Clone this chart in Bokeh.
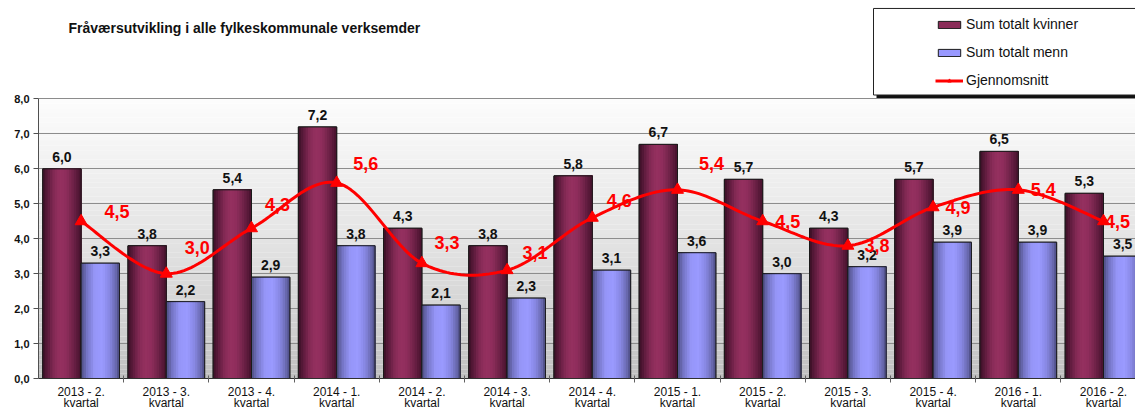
from bokeh.plotting import figure
from bokeh.models import (Range1d, FixedTicker, Legend, LegendItem, BoxAnnotation,
                          Label, ColumnDataSource)
from bokeh.core.properties import value
from bokeh.embed import file_html
from bokeh.resources import INLINE
import numpy as np

# ---------------- data ----------------
categories = ["2013 - 2.", "2013 - 3.", "2013 - 4.", "2014 - 1.", "2014 - 2.",
              "2014 - 3.", "2014 - 4.", "2015 - 1.", "2015 - 2.", "2015 - 3.",
              "2015 - 4.", "2016 - 1.", "2016 - 2."]
kvinner = [6.0, 3.8, 5.4, 7.2, 4.3, 3.8, 5.8, 6.7, 5.7, 4.3, 5.7, 6.5, 5.3]
menn = [3.3, 2.2, 2.9, 3.8, 2.1, 2.3, 3.1, 3.6, 3.0, 3.2, 3.9, 3.9, 3.5]
snitt = [4.5, 3.0, 4.3, 5.6, 3.3, 3.1, 4.6, 5.4, 4.5, 3.8, 4.9, 5.4, 4.5]
y_ticks = [0, 1, 2, 3, 4, 5, 6, 7, 8]

# ---------------- style / layout ----------------
FONT = "Liberation Sans"
BAR_W = 0.45
W, H = 1135, 412
FRAME_L, FRAME_B = 38, 32          # border sizes in px
CAT_PX = 85.2                      # px per category
Y_PX = 35.125                      # px per unit on the value axis
X0 = -0.5
X1 = X0 + (W - FRAME_L) / CAT_PX
Y1 = (H - FRAME_B) / Y_PX          # plot area reaches the top of the picture
# pixel offsets of the average labels (placement style)
avg_dx = [36, 31, 26, 29, 25, 28, 27, 34, 25, 29, 25, 25, 14]
avg_dy = [-10, -26, -24, -19, -21, -18, -17, -26, 0, 0, 0, 0, 0]


def px2x(px):
    return X0 + (px - FRAME_L) / CAT_PX


def py2y(py):
    return (H - FRAME_B - py) / Y_PX


n = len(categories)
xc = np.arange(n, dtype=float)
YMAX = y_ticks[-1]


def fmt(v):
    return f"{v:.1f}".replace(".", ",")


p = figure(width=W, height=H, x_range=Range1d(X0, X1), y_range=Range1d(0, Y1),
           output_backend="svg", toolbar_location=None, title=None,
           min_border_left=FRAME_L, min_border_right=0, min_border_top=0,
           min_border_bottom=FRAME_B)
p.outline_line_color = None
p.background_fill_color = "white"
p.border_fill_color = "white"

# background gradient of the plot area (0..8 only)
nb = 60
edges = np.linspace(0, YMAX, nb + 1)
bg_cols = []
for i in range(nb):
    t = ((edges[i] + edges[i + 1]) / 2) / YMAX
    c = int(round(188 + (252 - 188) * t ** 0.7))
    bg_cols.append(f"#{c:02x}{c:02x}{c:02x}")
p.quad(left=X0, right=X1, bottom=edges[:-1], top=edges[1:] + 0.001,
       fill_color=bg_cols, line_color=None, level="image")

# grid
p.xgrid.visible = False
p.ygrid.ticker = FixedTicker(ticks=y_ticks)
p.ygrid.grid_line_color = "#8c8c8c"
p.ygrid.grid_line_width = 1


def hex2rgb(h):
    h = h.lstrip("#")
    return [int(h[i:i + 2], 16) for i in (0, 2, 4)]


def profile_color(stops, t):
    for (t0, c0), (t1, c1) in zip(stops[:-1], stops[1:]):
        if t0 <= t <= t1:
            f = (t - t0) / (t1 - t0) if t1 > t0 else 0
            a, b = hex2rgb(c0), hex2rgb(c1)
            r = [int(round(a[k] + (b[k] - a[k]) * f)) for k in range(3)]
            return "#%02x%02x%02x" % tuple(r)
    return stops[-1][1]


k_stops = [(0.0, "#3a0f25"), (0.12, "#5a1a3b"), (0.3, "#862b56"), (0.45, "#953060"),
           (0.62, "#8e2d5b"), (0.82, "#6a2045"), (1.0, "#45122c")]
m_stops = [(0.0, "#4d4d80"), (0.15, "#7474c4"), (0.35, "#9696f8"), (0.55, "#9a9aff"),
           (0.75, "#8686e0"), (0.9, "#6a6ab0"), (1.0, "#4a4a7e")]


def shaded_bars(vals, offset, stops, mid):
    x = xc + offset
    base = p.vbar(x=x, width=BAR_W, top=vals, bottom=0, fill_color=mid,
                  line_color="#1a1a1a", line_width=1)
    ns = 16
    for k in range(ns):
        t = (k + 0.5) / ns
        left = x - BAR_W / 2 + k * BAR_W / ns
        p.quad(left=left, right=x + BAR_W / 2, bottom=0, top=vals,
               fill_color=profile_color(stops, t), line_color=None)
    p.vbar(x=x, width=BAR_W, top=vals, bottom=0, fill_alpha=0,
           line_color="#1a1a1a", line_width=1)
    src = ColumnDataSource(dict(x=x, y=vals, t=[fmt(v) for v in vals]))
    p.text(x="x", y="y", text="t", source=src, text_align="center",
           text_baseline="bottom", y_offset=-7, text_font=value(FONT),
           text_font_size="14px", text_font_style="bold", text_color="#111111")
    return base


r_k = shaded_bars(kvinner, -BAR_W / 2, k_stops, "#8a2c58")
r_m = shaded_bars(menn, BAR_W / 2, m_stops, "#9999ff")

# smoothed average line (Catmull-Rom through the data points)
pts = list(zip(xc, snitt))
lx, ly = [], []
for i in range(n - 1):
    p0 = pts[i - 1] if i > 0 else pts[i]
    p1 = pts[i]
    p2 = pts[i + 1]
    p3 = pts[i + 2] if i + 2 < n else pts[i + 1]
    for t in np.linspace(0, 1, 24, endpoint=False):
        t2, t3 = t * t, t * t * t
        for j, arr in ((0, lx), (1, ly)):
            arr.append(0.5 * ((2 * p1[j]) + (-p0[j] + p2[j]) * t +
                              (2 * p0[j] - 5 * p1[j] + 4 * p2[j] - p3[j]) * t2 +
                              (-p0[j] + 3 * p1[j] - 3 * p2[j] + p3[j]) * t3))
lx.append(pts[-1][0])
ly.append(pts[-1][1])
r_line = p.line(lx, ly, line_color="#ff0000", line_width=3)
r_mark = p.scatter(xc, snitt, marker="triangle", size=12, fill_color="#ff0000",
                   line_color="#ff0000")
asrc = ColumnDataSource(dict(x=xc, y=snitt, t=[fmt(v) for v in snitt], dx=avg_dx, dy=avg_dy))
p.text(x="x", y="y", text="t", source=asrc, x_offset="dx", y_offset="dy",
       text_align="center", text_baseline="middle", text_font=value(FONT),
       text_font_size="18px", text_font_style="bold", text_color="#ff0000")

# axes
p.yaxis.ticker = FixedTicker(ticks=y_ticks)
p.yaxis.bounds = (0, YMAX)
p.yaxis.major_label_overrides = {v: fmt(v) for v in y_ticks}
p.yaxis.major_label_text_font = FONT
p.yaxis.major_label_text_font_size = "11px"
p.yaxis.major_label_text_font_style = "bold"
p.yaxis.major_label_text_color = "#111111"
p.yaxis.major_tick_out = 5
p.yaxis.major_tick_in = 0
p.yaxis.minor_tick_line_color = None
p.yaxis.axis_line_color = "#505050"
p.yaxis.major_tick_line_color = "#505050"
p.yaxis.major_label_standoff = 4

p.xaxis.ticker = FixedTicker(ticks=list(range(n)), minor_ticks=[i + 0.5 for i in range(n)])
p.xaxis.major_label_overrides = {i: categories[i] + "\nkvartal" for i in range(n)}
p.xaxis.major_label_text_font = FONT
p.xaxis.major_label_text_font_size = "12px"
p.xaxis.major_label_text_line_height = 0.82
p.xaxis.major_label_text_color = "#111111"
p.xaxis.major_tick_out = 0
p.xaxis.major_tick_in = 0
p.xaxis.major_tick_line_color = None
p.xaxis.minor_tick_out = 4
p.xaxis.minor_tick_in = 3
p.xaxis.minor_tick_line_color = "#606060"
p.xaxis.axis_line_color = "#303030"
p.xaxis.major_label_standoff = 2

# title
p.add_layout(Label(x=px2x(68), y=py2y(28),
                   text="Fråværsutvikling i alle fylkeskommunale  verksemder",
                   text_font=FONT, text_font_size="14px", text_font_style="bold",
                   text_baseline="middle", text_color="#111111"))

# legend frame with shadow
p.add_layout(BoxAnnotation(left=px2x(876), right=px2x(1150), top=py2y(11), bottom=py2y(98),
                           fill_color="#111111", fill_alpha=1, line_color=None))
p.add_layout(BoxAnnotation(left=px2x(873), right=px2x(1145), top=py2y(8), bottom=py2y(95),
                           fill_color="white", fill_alpha=1, line_color="#222222",
                           line_width=1, line_alpha=1))

legend = Legend(items=[LegendItem(label="Sum totalt kvinner", renderers=[r_k]),
                       LegendItem(label="Sum totalt menn", renderers=[r_m]),
                       LegendItem(label="Gjennomsnitt", renderers=[r_line, r_mark])],
                location=(891, 284), padding=6, spacing=12,
                glyph_width=28, glyph_height=9, label_height=16, label_standoff=3,
                label_text_font=FONT, label_text_font_size="14px",
                label_text_color="#111111", border_line_alpha=0,
                background_fill_alpha=0)
p.add_layout(legend, "center")

open("out.html", "w").write(file_html(p, INLINE))
